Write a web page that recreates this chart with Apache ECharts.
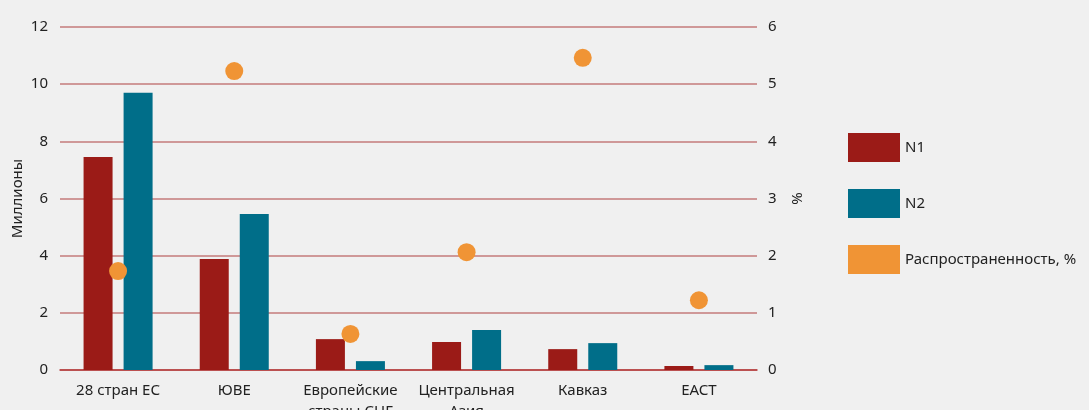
<!DOCTYPE html>
<html>
<head>
<meta charset="utf-8">
<script src="https://cdn.jsdelivr.net/npm/echarts@6/dist/echarts.min.js"></script>
<style>
  html, body { margin: 0; padding: 0; background: #f0f0f0; }
  #chart { width: 1089px; height: 410px; }
</style>
</head>
<body>
<div id="chart"></div>
<script>
// категории и значения
const categories = ["28 стран ЕС", "ЮВЕ", "Европейские\nстраны СНГ", "Центральная\nАзия", "Кавказ", "ЕАСТ"];
const n1 = [7.45, 3.88, 1.08, 0.98, 0.73, 0.14];
const n2 = [9.7, 5.46, 0.31, 1.4, 0.94, 0.17];
const prevalence = [1.73, 5.23, 0.63, 2.06, 5.46, 1.22];

const font = "Noto Sans";
const myChart = echarts.init(document.getElementById("chart"));
const option = {
  backgroundColor: "#f0f0f0",
  textStyle: { fontFamily: font },
  grid: { left: 60, right: 332, top: 27, bottom: 40, outerBoundsMode: "none", containLabel: false },
  legend: {
    orient: "vertical",
    left: 843,
    top: 128,
    icon: "rect",
    itemWidth: 52,
    itemHeight: 29,
    itemGap: 27,
    textStyle: { fontSize: 15, color: "#222", fontFamily: font },
    data: ["N1", "N2", "Распространенность, %"],
  },
  xAxis: {
    type: "category",
    data: categories,
    axisLine: { lineStyle: { color: "#b53a3a", width: 1.5 } },
    axisTick: { inside: true, length: 7, lineStyle: { color: "#b53a3a", width: 1.5 } },
    axisLabel: { fontSize: 15, color: "#222", margin: 10, lineHeight: 21, interval: 0 },
  },
  yAxis: [
    {
      type: "value",
      min: 0,
      max: 12,
      interval: 2,
      name: "Миллионы",
      nameLocation: "middle",
      nameGap: 35,
      nameMoveOverlap: false,
      nameTextStyle: { fontSize: 15, color: "#222" },
      axisLine: { show: false },
      axisTick: { show: false },
      axisLabel: { fontSize: 15, color: "#222", margin: 12 },
      splitLine: { lineStyle: { color: "#c47b7b", width: 1.5 } },
    },
    {
      type: "value",
      min: 0,
      max: 6,
      interval: 1,
      name: "%",
      nameLocation: "middle",
      nameGap: 33,
      nameMoveOverlap: false,
      nameTextStyle: { fontSize: 15, color: "#222" },
      axisLine: { show: false },
      axisTick: { show: false },
      axisLabel: { fontSize: 15, color: "#222", margin: 11 },
      splitLine: { show: false },
    },
  ],
  series: [
    {
      name: "N1",
      type: "bar",
      data: n1,
      barWidth: 29,
      barGap: "38%",
      itemStyle: { color: "#9b1b17" },
    },
    {
      name: "N2",
      type: "bar",
      data: n2,
      barWidth: 29,
      itemStyle: { color: "#006e89" },
    },
    {
      name: "Распространенность, %",
      type: "scatter",
      yAxisIndex: 1,
      data: prevalence,
      symbolSize: 18,
      itemStyle: { color: "#f09435", opacity: 1 },
      z: 5,
    },
  ],
};
myChart.setOption(option);
</script>
</body>
</html>
